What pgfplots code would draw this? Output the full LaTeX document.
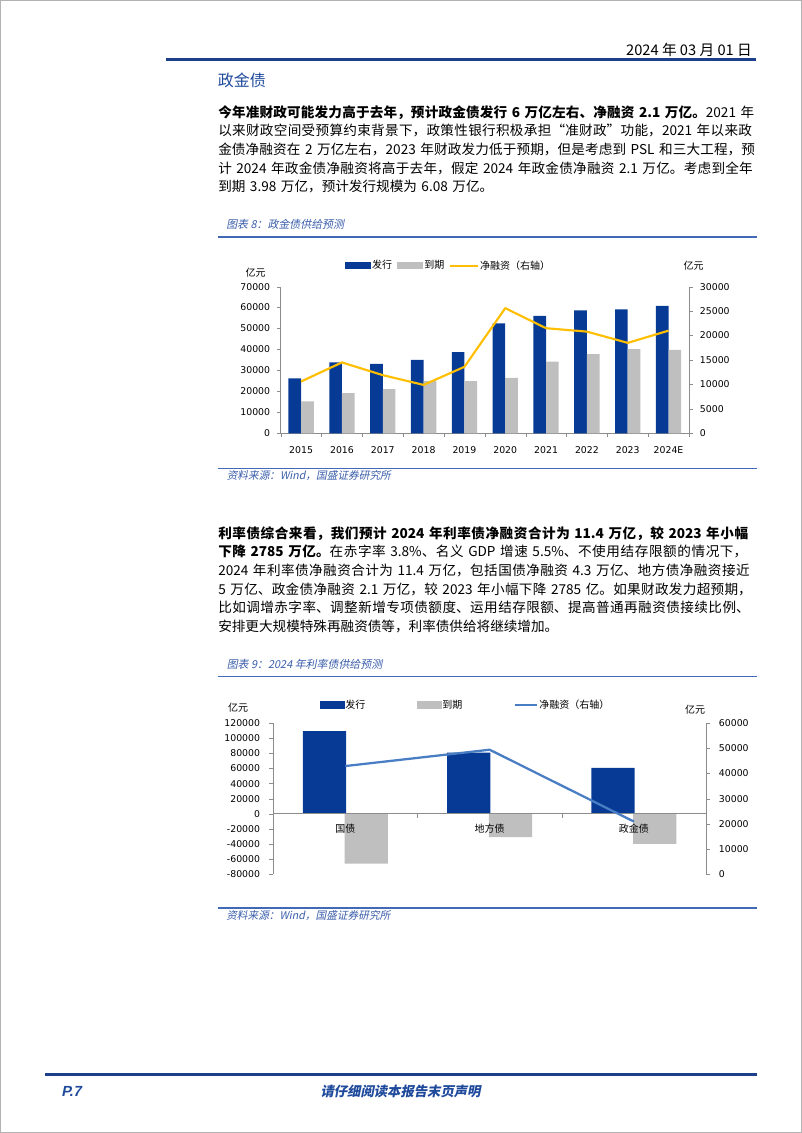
\documentclass[border=0pt]{standalone}
\usepackage{fontspec}
\usepackage{pgfplots}
\pgfplotsset{compat=1.18}
\setmainfont{Noto Sans CJK SC}
\newfontfamily\cjk{Noto Sans CJK SC}
\newfontfamily\cjkit{Noto Sans CJK SC}[FakeSlant=0.2]
\newfontfamily\latinfont{DejaVu Sans}
\newfontfamily\latinbi{Liberation Sans}[FakeSlant=0.2]
\XeTeXlinebreaklocale "zh"
\XeTeXlinebreakskip = 0pt plus 1.2pt minus 0.3pt
\definecolor{cblue}{HTML}{073A94}
\definecolor{cgray}{HTML}{BFBFBF}
\definecolor{cyellow}{HTML}{FFBF00}
\definecolor{cline}{HTML}{4A7EC4}
\definecolor{hdrblue}{HTML}{1B3F8B}
\definecolor{titleblue}{HTML}{1F4A9C}
\definecolor{capblue}{HTML}{3A5DAA}
\definecolor{rulecol}{HTML}{4169B5}
\definecolor{axgray}{HTML}{8C8C8C}
\pgfplotsset{
  every tick label/.append style={font=\latinfont\fontsize{7}{8}\selectfont},
  /pgf/number format/assume math mode=true,
  /pgf/number format/1000 sep={},
}
\begin{document}
\begin{tikzpicture}
\begin{scope}[x=0.75pt,y=-0.75pt]
\path[use as bounding box] (0,0) rectangle (802,1133);
\draw[gray!60, line width=0.75pt] (0.5,0.5) rectangle (801.5,1132.5);
% header
\node[anchor=east, inner sep=0pt, font=\fontsize{11}{13}\selectfont] at (752,49.5) {2024 年 03 月 01 日};
\draw[hdrblue, line width=1.6pt] (166,59.5) -- (756,59.5);
\node[anchor=west, inner sep=0pt, text=titleblue, font=\fontsize{12}{14}\selectfont] at (217.5,80.5) {政金债};
% paragraph 1
\node[anchor=north west, inner sep=0pt, text width=404.25pt, font=\fontsize{10.2}{14}\selectfont] at (218,105) {\parindent=0pt
\textbf{今年准财政可能发力高于去年，预计政金债发行 6 万亿左右、净融资 2.1 万亿。}2021 年\linebreak
以来财政空间受预算约束背景下，政策性银行积极承担“准财政”功能，2021 年以来政\linebreak
金债净融资在 2 万亿左右，2023 年财政发力低于预期，但是考虑到 PSL 和三大工程，预\linebreak
计 2024 年政金债净融资将高于去年，假定 2024 年政金债净融资 2.1 万亿。考虑到全年\linebreak
到期 3.98 万亿，预计发行规模为 6.08 万亿。\par};
% caption 8
\node[anchor=west, inner sep=0pt, text=capblue, font=\cjkit\fontsize{8.2}{10}\selectfont] at (226,224.5) {图表 8：政金债供给预测};
\draw[rulecol, line width=1.3pt] (218,236.7) -- (757,236.7);
\draw[rulecol, line width=1.1pt] (218,468.5) -- (757,468.5);
\node[anchor=west, inner sep=0pt, text=capblue, font=\cjkit\fontsize{8}{10}\selectfont] at (226.5,476) {资料来源：Wind，国盛证券研究所};
% chart 1 axis unit labels
\node[inner sep=0pt, font=\cjk\fontsize{7.5}{9}\selectfont] at (255.5,272.3) {亿元};
\node[inner sep=0pt, font=\cjk\fontsize{7.5}{9}\selectfont] at (693.5,265.7) {亿元};
% paragraph 2
\node[anchor=north west, inner sep=0pt, text width=404.25pt, font=\fontsize{10.2}{14}\selectfont] at (218,526.2) {\parindent=0pt
\textbf{利率债综合来看，我们预计 2024 年利率债净融资合计为 11.4 万亿，较 2023 年小幅}\linebreak
\textbf{下降 2785 万亿。}在赤字率 3.8\%、名义 GDP 增速 5.5\%、不使用结存限额的情况下，\linebreak
2024 年利率债净融资合计为 11.4 万亿，包括国债净融资 4.3 万亿、地方债净融资接近\linebreak
5 万亿、政金债净融资 2.1 万亿，较 2023 年小幅下降 2785 亿。如果财政发力超预期，\linebreak
比如调增赤字率、调整新增专项债额度、运用结存限额、提高普通再融资债接续比例、\linebreak
安排更大规模特殊再融资债等，利率债供给将继续增加。\par};
% caption 9
\node[anchor=west, inner sep=0pt, text=capblue, font=\cjkit\fontsize{8.2}{10}\selectfont] at (226.5,664.3) {图表 9：2024 年利率债供给预测};
\draw[rulecol, line width=1.3pt] (218,676.5) -- (757,676.5);
\draw[rulecol, line width=1.3pt] (218,908.3) -- (757,908.3);
\node[anchor=west, inner sep=0pt, text=capblue, font=\cjkit\fontsize{8}{10}\selectfont] at (226,915.5) {资料来源：Wind，国盛证券研究所};
% chart 2 unit labels
\node[inner sep=0pt, font=\cjk\fontsize{7.5}{9}\selectfont] at (238,707.7) {亿元};
\node[inner sep=0pt, font=\cjk\fontsize{7.5}{9}\selectfont] at (695,709.3) {亿元};
% footer
\draw[hdrblue, line width=2.2pt] (45,1074.7) -- (757,1074.7);
\node[anchor=west, inner sep=0pt, text=titleblue, font=\latinbi\bfseries\fontsize{11}{13}\selectfont] at (61,1091.5) {P.7};
\node[inner sep=0pt, text=titleblue, font=\cjkit\bfseries\fontsize{10}{12}\selectfont] at (400.5,1091.5) {请仔细阅读本报告末页声明};
\end{scope}
% chart 1 left axis
\begin{axis}[
  at={(210.525pt,-324.975pt)}, anchor=south west, scale only axis,
  width=306.2pt, height=110pt,
  xmin=-0.5, xmax=9.5, ymin=0, ymax=70000,
  axis y line*=left, axis x line*=bottom,
  axis line style={draw=axgray,-},
  tick style={draw=axgray},
  ytick={0,10000,...,70000},
  xtick={0,...,9},
  xticklabels={2015,2016,2017,2018,2019,2020,2021,2022,2023,2024E},
  major x tick style={draw=none},
  minor xtick={-0.5,0.5,...,9.5},
  tick align=outside, major tick length=3pt, minor tick length=3pt,
  yticklabel style={xshift=-1.4pt},
  xticklabel style={yshift=-3.4pt},
  scaled y ticks=false,
  legend columns=3,
  legend cell align=left,
  legend style={at={(0.409,1.1425)}, anchor=center, draw=none, fill=none,
    inner sep=0pt, nodes={inner sep=0.6pt},
    font=\cjk\fontsize{7.5}{9}\selectfont,
    /tikz/every even column/.append style={column sep=3pt}},
]
\addplot[ybar, bar width=0.31, bar shift=-0.155, fill=cblue, draw=none,
  legend image code/.code={\fill[cblue] (0pt,-2.75pt) rectangle (20pt,2.75pt);}]
  coordinates {(0,26200) (1,33900) (2,33200) (3,35100) (4,38800) (5,52500) (6,56000) (7,58700) (8,59200) (9,60800)};
\addlegendentry{发行}
\addplot[ybar, bar width=0.31, bar shift=0.155, fill=cgray, draw=none,
  legend image code/.code={\fill[cgray] (0pt,-2.75pt) rectangle (20pt,2.75pt);}]
  coordinates {(0,15300) (1,19200) (2,21100) (3,25000) (4,24900) (5,26500) (6,34200) (7,37800) (8,40200) (9,39800)};
\addlegendentry{到期}
\addlegendimage{legend image code/.code={\draw[cyellow, line width=1.6pt] (0pt,0pt) -- (21pt,0pt);}}
\addlegendentry{净融资（右轴）}
\end{axis}
% chart 1 right axis
\begin{axis}[
  at={(210.525pt,-324.975pt)}, anchor=south west, scale only axis,
  width=306.2pt, height=110pt,
  xmin=-0.5, xmax=9.5, ymin=0, ymax=30000,
  axis y line*=right, axis x line=none,
  axis line style={draw=axgray,-},
  tick style={draw=axgray},
  ytick={0,5000,...,30000},
  tick align=outside, major tick length=3pt,
  yticklabel style={xshift=1.7pt},
  scaled y ticks=false,
]
\addplot[cyellow, line width=1.6pt, line join=round]
  coordinates {(0,10600) (1,14500) (2,11900) (3,9900) (4,13600) (5,25600) (6,21500) (7,20800) (8,18500) (9,21000)};
\end{axis}
% chart 2 left axis
\begin{axis}[
  at={(204.975pt,-655.5pt)}, anchor=south west, scale only axis,
  width=324.5pt, height=113pt,
  xmin=-0.5, xmax=2.5, ymin=-80000, ymax=120000,
  axis y line*=left, axis x line*=middle,
  hide obscured x ticks=false, hide obscured y ticks=false,
  axis line style={draw=axgray,-},
  tick style={draw=axgray},
  ytick={-80000,-60000,-40000,-20000,0,20000,40000,60000,80000,100000,120000},
  yticklabels={-80000,-60000,-40000,-20000,0,20000,40000,60000,80000,100000,120000},
  xtick={0,1,2},
  xticklabels={国债,地方债,政金债},
  major x tick style={draw=none},
  minor xtick={-0.5,0.5,1.5,2.5},
  tick align=outside, major tick length=3pt, minor tick length=3pt,
  yticklabel style={xshift=-3.4pt},
  xticklabel style={font=\cjk\fontsize{7.5}{9}\selectfont, yshift=-1.1pt},
  scaled y ticks=false,
  axis on top,
  legend columns=3,
  legend cell align=left,
  legend style={at={(0.4428,1.1214)}, anchor=center, draw=none, fill=none,
    inner sep=0pt, nodes={inner sep=0.6pt},
    font=\cjk\fontsize{7.5}{9}\selectfont,
    /tikz/every even column/.append style={column sep=37.8pt}},
]
\addplot[ybar, bar width=0.30, bar shift=-0.145, fill=cblue, draw=none,
  legend image code/.code={\fill[cblue] (0pt,-2.9pt) rectangle (18.75pt,2.9pt);}]
  coordinates {(0,109700) (1,81000) (2,61000)};
\addlegendentry{发行}
\addplot[ybar, bar width=0.30, bar shift=0.145, fill=cgray, draw=none,
  legend image code/.code={\fill[cgray] (0pt,-2.9pt) rectangle (18.75pt,2.9pt);}]
  coordinates {(0,-66300) (1,-31000) (2,-40000)};
\addlegendentry{到期}
\addlegendimage{legend image code/.code={\draw[cline, line width=1.7pt] (0pt,0pt) -- (17pt,0pt);}}
\addlegendentry{净融资（右轴）}
\end{axis}
% chart 2 right axis
\begin{axis}[
  at={(204.975pt,-655.5pt)}, anchor=south west, scale only axis,
  width=324.5pt, height=113pt,
  xmin=-0.5, xmax=2.5, ymin=0, ymax=60000,
  axis y line*=right, axis x line=none,
  axis line style={draw=axgray,-},
  tick style={draw=axgray},
  ytick={0,10000,...,60000},
  tick align=outside, major tick length=3pt,
  yticklabel style={xshift=3.2pt},
  scaled y ticks=false,
]
\addplot[cline, line width=1.7pt, line join=round]
  coordinates {(0,43000) (1,49500) (2,20900)};
\end{axis}
\end{tikzpicture}
\end{document}
